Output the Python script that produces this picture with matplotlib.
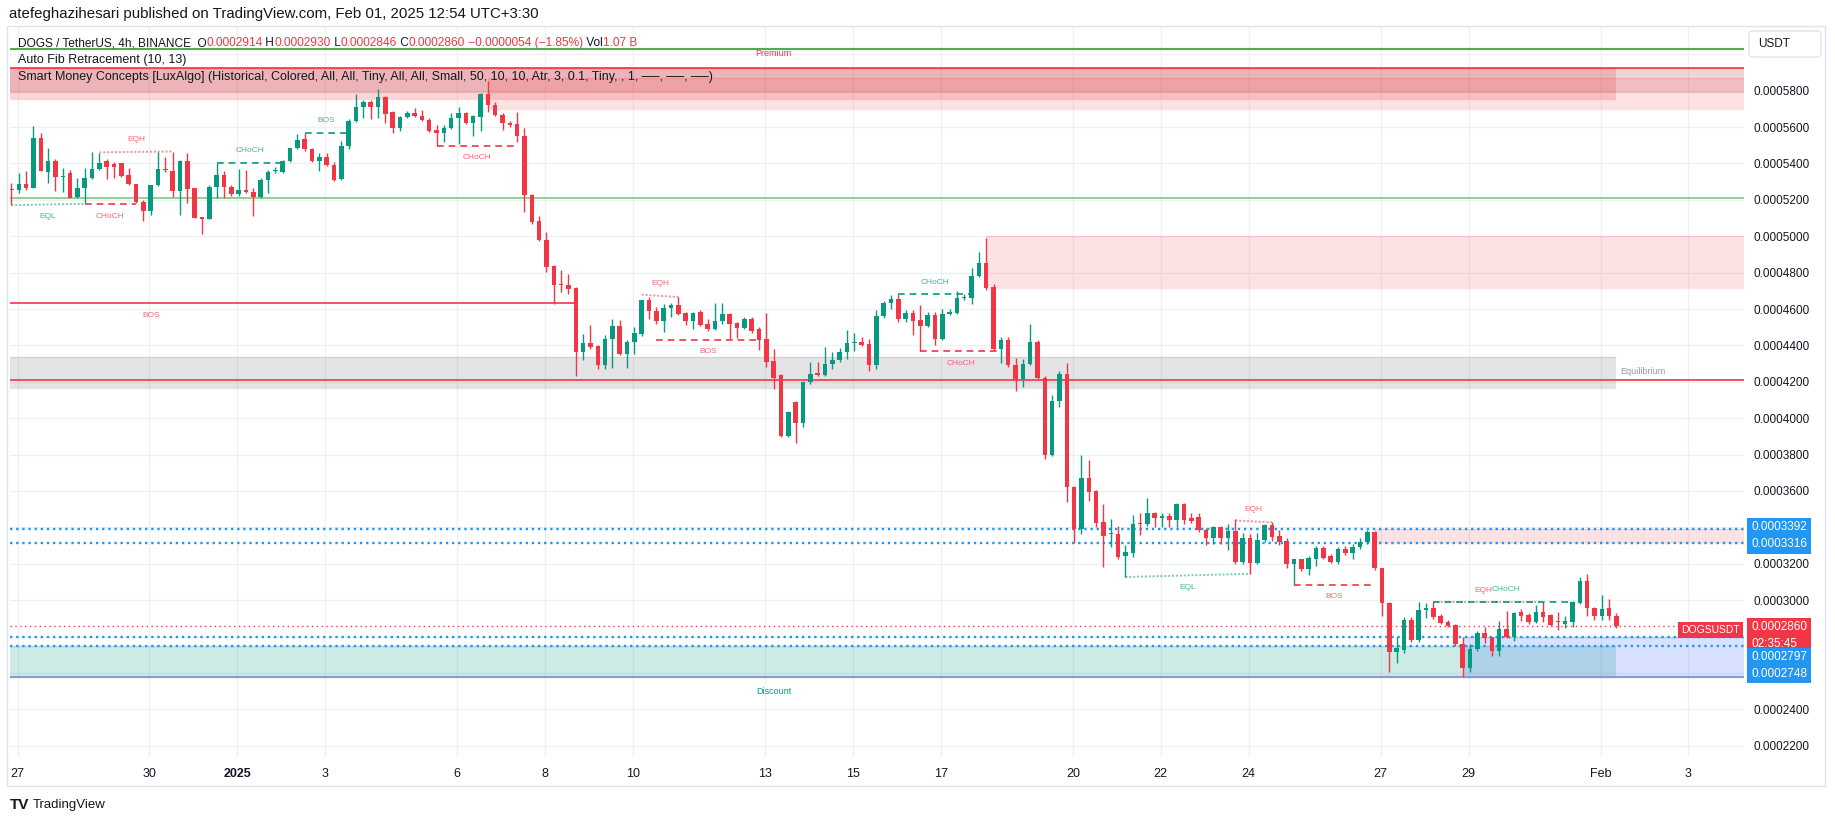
import numpy as np
import matplotlib
matplotlib.use("Agg")
import matplotlib.pyplot as plt
import matplotlib.transforms as mtransforms
from matplotlib.patches import Rectangle, FancyBboxPatch

plt.rcParams['font.family'] = ['Liberation Sans', 'DejaVu Sans']

W, H = 1835, 821
SCALE = 1e-7  # prices below are in 1e-7 USDT, 2860 -> 0.0002860

# DOGS/USDT 4h candles, Dec 26 -> Feb 1
opens = [5260, 5254, 5287, 5263, 5542, 5355, 5415, 5327, 5350, 5213,
         5263, 5318, 5369, 5415, 5395, 5401, 5336, 5289, 5190, 5138,
         5281, 5369, 5360, 5248, 5415, 5263, 5107, 5094, 5272, 5336,
         5272, 5230, 5256, 5245, 5217, 5309, 5358, 5355, 5415, 5487,
         5535, 5479, 5415, 5437, 5391, 5313, 5496, 5634, 5709, 5736,
         5709, 5764, 5681, 5593, 5654, 5679, 5661, 5639, 5584, 5566,
         5597, 5648, 5679, 5621, 5657, 5780, 5722, 5667, 5624, 5617,
         5553, 5226, 5083, 4982, 4837, 4740, 4731, 4716, 4364, 4413,
         4397, 4290, 4433, 4507, 4351, 4419, 4465, 4652, 4589, 4533,
         4606, 4624, 4580, 4536, 4584, 4520, 4492, 4536, 4575, 4525,
         4498, 4547, 4492, 4437, 4315, 4236, 3902, 4089, 3975, 4199,
         4249, 4236, 4300, 4318, 4364, 4415, 4420, 4410, 4294, 4562,
         4635, 4657, 4547, 4580, 4538, 4507, 4566, 4437, 4571, 4580,
         4661, 4661, 4782, 4853, 4722, 4382, 4432, 4291, 4217, 4296,
         4419, 4223, 3798, 4095, 4245, 3622, 3392, 3673, 3600, 3429,
         3364, 3365, 3242, 3260, 3420, 3418, 3480, 3449, 3462, 3442,
         3530, 3451, 3457, 3385, 3339, 3402, 3339, 3380, 3211, 3339,
         3205, 3330, 3413, 3352, 3325, 3200, 3224, 3169, 3227, 3284,
         3242, 3211, 3279, 3257, 3290, 3319, 3374, 3175, 2986, 2717,
         2726, 2891, 2781, 2946, 2959, 2913, 2882, 2863, 2759, 2629,
         2730, 2817, 2795, 2720, 2839, 2799, 2933, 2918, 2882, 2933,
         2918, 2884, 2869, 2882, 2986, 3105, 2955, 2915, 2955, 2914]
highs = [5294, 5349, 5360, 5608, 5569, 5487, 5424, 5373, 5365, 5318,
         5373, 5461, 5456, 5424, 5410, 5404, 5377, 5289, 5199, 5281,
         5461, 5437, 5465, 5420, 5456, 5263, 5107, 5280, 5401, 5358,
         5280, 5368, 5364, 5263, 5318, 5364, 5380, 5420, 5487, 5560,
         5566, 5483, 5456, 5456, 5410, 5523, 5645, 5780, 5749, 5749,
         5808, 5773, 5690, 5660, 5690, 5703, 5694, 5648, 5612, 5612,
         5679, 5712, 5685, 5667, 5789, 5855, 5740, 5676, 5634, 5685,
         5593, 5230, 5112, 5024, 4840, 4813, 4795, 4722, 4461, 4510,
         4400, 4456, 4547, 4538, 4430, 4501, 4652, 4666, 4611, 4630,
         4635, 4666, 4585, 4585, 4593, 4544, 4635, 4635, 4580, 4530,
         4556, 4556, 4502, 4578, 4382, 4241, 4040, 4095, 4205, 4309,
         4309, 4391, 4364, 4388, 4487, 4470, 4446, 4437, 4593, 4642,
         4675, 4681, 4593, 4593, 4621, 4584, 4584, 4602, 4602, 4698,
         4685, 4828, 4914, 4991, 4740, 4446, 4446, 4331, 4327, 4516,
         4432, 4230, 4130, 4258, 4305, 3630, 3798, 3770, 3605, 3526,
         3444, 3407, 3303, 3468, 3480, 3563, 3485, 3480, 3480, 3536,
         3536, 3479, 3480, 3398, 3407, 3407, 3420, 3444, 3370, 3361,
         3370, 3420, 3431, 3383, 3339, 3227, 3227, 3242, 3297, 3297,
         3251, 3292, 3297, 3306, 3343, 3385, 3380, 3178, 2990, 2799,
         2909, 2906, 2988, 2986, 2988, 2922, 2891, 2869, 2799, 2759,
         2832, 2850, 2800, 2885, 2940, 2933, 2950, 2928, 2973, 2992,
         2925, 2933, 2915, 2995, 3129, 3144, 2964, 3028, 3005, 2930]
lows = [5171, 5235, 5254, 5263, 5358, 5291, 5248, 5245, 5208, 5210,
        5181, 5314, 5365, 5314, 5318, 5325, 5280, 5181, 5083, 5116,
        5275, 5355, 5217, 5116, 5181, 5100, 5015, 5094, 5212, 5208,
        5223, 5223, 5240, 5111, 5208, 5235, 5350, 5350, 5410, 5480,
        5470, 5410, 5358, 5385, 5305, 5310, 5480, 5630, 5648, 5645,
        5652, 5621, 5569, 5580, 5650, 5655, 5635, 5575, 5498, 5520,
        5590, 5507, 5615, 5553, 5580, 5685, 5660, 5584, 5602, 5516,
        5135, 5065, 4975, 4804, 4626, 4694, 4685, 4232, 4322, 4380,
        4272, 4272, 4278, 4346, 4278, 4355, 4450, 4547, 4520, 4474,
        4556, 4566, 4514, 4489, 4505, 4478, 4485, 4520, 4434, 4441,
        4490, 4470, 4373, 4281, 4162, 3895, 3896, 3865, 3951, 4190,
        4230, 4230, 4272, 4310, 4327, 4367, 4395, 4258, 4272, 4550,
        4602, 4529, 4530, 4456, 4368, 4500, 4404, 4430, 4565, 4575,
        4650, 4630, 4775, 4703, 4368, 4303, 4280, 4147, 4171, 4290,
        4215, 3777, 3790, 4063, 3541, 3315, 3361, 3545, 3402, 3183,
        3293, 3224, 3127, 3237, 3358, 3410, 3402, 3400, 3402, 3402,
        3416, 3422, 3375, 3301, 3306, 3306, 3273, 3200, 3200, 3145,
        3198, 3318, 3325, 3301, 3174, 3086, 3160, 3136, 3187, 3224,
        3205, 3200, 3248, 3227, 3279, 3306, 3165, 2913, 2607, 2652,
        2710, 2770, 2770, 2900, 2895, 2868, 2850, 2750, 2579, 2607,
        2720, 2766, 2693, 2693, 2790, 2777, 2887, 2869, 2875, 2882,
        2858, 2836, 2845, 2851, 2979, 2913, 2891, 2891, 2891, 2846]
closes = [5252, 5287, 5263, 5542, 5358, 5415, 5327, 5333, 5212, 5267,
          5322, 5369, 5404, 5382, 5379, 5331, 5285, 5186, 5138, 5281,
          5369, 5362, 5248, 5415, 5260, 5103, 5094, 5272, 5336, 5272,
          5230, 5254, 5245, 5217, 5311, 5355, 5362, 5415, 5487, 5529,
          5478, 5415, 5437, 5391, 5309, 5496, 5635, 5709, 5736, 5709,
          5764, 5672, 5593, 5657, 5676, 5661, 5639, 5579, 5566, 5597,
          5648, 5679, 5621, 5661, 5780, 5722, 5667, 5621, 5612, 5553,
          5226, 5080, 4979, 4832, 4734, 4731, 4712, 4364, 4413, 4391,
          4290, 4437, 4507, 4351, 4419, 4470, 4652, 4588, 4533, 4606,
          4624, 4575, 4536, 4580, 4514, 4492, 4536, 4575, 4520, 4498,
          4547, 4479, 4432, 4309, 4223, 3902, 4034, 3975, 4199, 4245,
          4236, 4300, 4318, 4364, 4415, 4420, 4404, 4294, 4562, 4635,
          4657, 4547, 4580, 4534, 4507, 4566, 4437, 4571, 4584, 4661,
          4666, 4782, 4853, 4716, 4382, 4432, 4291, 4217, 4296, 4419,
          4223, 3798, 4095, 4245, 3620, 3392, 3673, 3596, 3426, 3352,
          3370, 3238, 3264, 3420, 3418, 3480, 3449, 3462, 3442, 3526,
          3442, 3433, 3383, 3339, 3402, 3339, 3379, 3211, 3339, 3205,
          3330, 3413, 3348, 3321, 3200, 3224, 3169, 3229, 3284, 3233,
          3211, 3279, 3257, 3292, 3319, 3374, 3175, 2983, 2717, 2739,
          2891, 2781, 2946, 2959, 2905, 2876, 2858, 2759, 2629, 2730,
          2817, 2790, 2720, 2839, 2799, 2928, 2913, 2882, 2933, 2906,
          2863, 2880, 2885, 2992, 3105, 2955, 2915, 2951, 2914, 2860]

# date axis: days after Dec 27 and their labels
tick_days = [0, 3, 5, 7, 10, 12, 14, 17, 19, 21, 24, 26, 28, 31, 33, 36, 38]
tick_labels = ['27', '30', '2025', '3', '6', '8', '10', '13', '15', '17',
               '20', '22', '24', '27', '29', 'Feb', '3']
price_ticks = list(range(2200, 6001, 200))
hidden_ticks = [6000, 3400, 2800, 2600]  # sit under the currency / price boxes

# auto fib / smc levels
green_levels = [6028, 5210]
red_levels = [5923, 4210]
blue_levels = [3392, 3316, 2797, 2748]
range_bottom = 2579
volume_text = '1.07 B'
countdown = '02:35:45'

# zones: start bar (None = off chart left), end bar (None = right edge), top, bottom
zone_start = [None, None, 65, 133, 186, None, None, 198]
zone_end = [219, None, None, None, None, 219, 219, None]
zone_top = [5923, 5923, 5868, 5000, 3392, 4335, 2748, 2797]
zone_bot = [5756, 5791, 5699, 4716, 3316, 4168, 2579, 2579]
zone_col = ['#F23645', '#B42D32', '#F23645', '#F23645', '#F23645', '#787B86', '#089981', '#2962FF']
zone_alpha = [0.2, 0.2, 0.14, 0.14, 0.14, 0.2, 0.2, 0.18]

# market structure: from bar, to bar, level at start, level at end, bullish?, label
smc_x0 = [0, 10, 12, 28, 40, 58, -39, 86, 88, 121, 124, 167, 152, 175, 194, 194]
smc_x1 = [10, 17, 22, 37, 46, 69, 77, 91, 102, 131, 135, 172, 169, 186, 209, 213]
smc_y0 = [5171, 5177, 5461, 5404, 5569, 5496, 4632, 4679, 4431, 4681, 4367, 3438, 3127, 3086, 2988, 2992]
smc_y1 = [5178, 5177, 5466, 5404, 5569, 5496, 4632, 4666, 4431, 4681, 4367, 3428, 3145, 3086, 2988, 2992]
smc_bull = [1, 0, 0, 1, 1, 0, 0, 0, 0, 1, 0, 0, 1, 0, 0, 1]
smc_text = ['EQL', 'CHoCH', 'EQH', 'CHoCH', 'BOS', 'CHoCH', 'BOS', 'EQH', 'BOS',
            'CHoCH', 'CHoCH', 'EQH', 'EQL', 'BOS', 'EQH', 'CHoCH']

GREEN, RED, BLUE = '#089981', '#F23645', '#2196F3'
TXT = '#131722'

o = np.array(opens); h = np.array(highs); l = np.array(lows); c = np.array(closes)
x = np.arange(len(o))
cols = np.where(c >= o, GREEN, RED)

fig = plt.figure(figsize=(W / 100, H / 100), dpi=100)
fig.patch.set_facecolor('white')
ax = fig.add_axes([9.5 / W, 1 - 757 / H, (1744 - 9.5) / W, (757 - 27) / H])
XL, XR = -0.27, 236.4
ax.set_xlim(XL, XR)
ax.set_ylim(2138, 6150)
for s in ax.spines.values():
    s.set_visible(False)

# grid
tick_x = [(d + 0.137) * 6 for d in tick_days]
for tx in tick_x:
    ax.axvline(tx, color='#EFF0F2', lw=1, zorder=0)
for py in price_ticks:
    ax.axhline(py, color='#EFF0F2', lw=1, zorder=0)

# zones
for s0, e0, top, bot, col, al in zip(zone_start, zone_end, zone_top, zone_bot, zone_col, zone_alpha):
    xs = XL - 1 if s0 is None else s0
    xe = XR + 1 if e0 is None else e0
    ax.add_patch(Rectangle((xs, bot), xe - xs, top - bot, fc=col, alpha=al, ec='none', zorder=1))
    ax.hlines([top, bot], xs, xe, color=col, alpha=al * 0.9, lw=1, zorder=1)

# fib / range lines
ax.hlines(green_levels, XL, XR, color=['#4CAF50', '#81C784'], lw=[1.5, 1.2], zorder=2)
ax.hlines(red_levels, XL, XR, color=RED, lw=1.2, zorder=2)
ax.hlines(range_bottom, XL, XR, color='#8D98D3', lw=1.5, zorder=2)
ax.hlines(blue_levels, XL, XR, color=BLUE, lw=1.7, linestyles=[(0, (1, 1.6))], zorder=2)
ax.hlines(c[-1], XL, XR, color=RED, lw=1, linestyles=[(0, (1, 2.5))], zorder=2)

# candles
ax.vlines(x, l, h, color=cols, lw=1, zorder=3)
body = np.maximum(np.abs(c - o), 5)
ax.bar(x, body, bottom=np.minimum(o, c), width=0.62, color=cols, zorder=4, linewidth=0)

# structure lines and labels
for i, (x0, x1, y0, y1, bull, t) in enumerate(zip(smc_x0, smc_x1, smc_y0, smc_y1, smc_bull, smc_text)):
    col = GREEN if bull else RED
    if t in ('EQH', 'EQL'):
        ls, lw, al = (0, (1, 1)), 1.4, 0.55
    elif t == 'BOS' and x0 < 0:
        ls, lw, al = '-', 1.2, 1
    else:
        ls, lw, al = (0, (4, 3)), 1.2, 1
    ax.plot([x0, x1], [y0, y1], color=col, lw=lw, ls=ls, alpha=al, zorder=5)
    above = (t == 'EQH') or (bull and t != 'EQL')
    # the last EQH / CHoCH pair shares one level: nudge them apart a little
    dx = -5 if i == len(smc_text) - 2 else (3 if i == len(smc_text) - 1 else 0)
    ax.annotate(t, xy=((x0 + x1) / 2, (y0 + y1) / 2), xytext=(dx, 12 if above else -12),
                textcoords='offset pixels', ha='center', va='center', fontsize=6,
                color=col, alpha=0.75, zorder=6)

mid_bar = 104
ax.text(mid_bar, 6007, 'Premium', color=RED, fontsize=6.5, ha='center', va='center', zorder=6)
ax.text(mid_bar, 2497, 'Discount', color=GREEN, fontsize=6.5, ha='center', va='center', zorder=6)
ax.text(219.5, 4254, 'Equilibrium', color='#9598A1', fontsize=6.5, ha='left', va='center', zorder=6)

# axes ticks
ax.yaxis.tick_right()
ax.set_yticks(price_ticks)
ax.set_yticklabels(['' if p in hidden_ticks else f'{p * SCALE:.7f}' for p in price_ticks])
ax.tick_params(axis='y', length=0, pad=6.5, labelsize=8.5, labelcolor=TXT)
ax.set_xticks(tick_x)
ax.set_xticklabels(tick_labels)
ax.tick_params(axis='x', length=0, pad=8, labelsize=9, labelcolor=TXT)
for lab in ax.get_xticklabels():
    if lab.get_text() == '2025':
        lab.set_fontweight('bold')


def axis_box(text, y, dy, color, ha='left', dx=7, size=8.5):
    ax.annotate(text, xy=(1, y), xycoords=('axes fraction', 'data'), xytext=(dx, dy),
                textcoords='offset pixels', ha=ha, va='center', color='white',
                fontsize=size, linespacing=1.5, annotation_clip=False, zorder=30,
                bbox=dict(boxstyle='square,pad=0.3', fc=color, ec='none'))


axis_box(f'{blue_levels[0] * SCALE:.7f}\n{blue_levels[1] * SCALE:.7f}',
         (blue_levels[0] + blue_levels[1]) / 2, 0, BLUE)
axis_box(f'{c[-1] * SCALE:.7f}\n{countdown}', c[-1], -10, RED)
axis_box(f'{blue_levels[2] * SCALE:.7f}\n{blue_levels[3] * SCALE:.7f}',
         (blue_levels[2] + blue_levels[3]) / 2, -24, BLUE)
axis_box('DOGSUSDT', c[-1], -4, RED, ha='right', dx=-4, size=7.5)

# frame, currency box, logo
idt = mtransforms.IdentityTransform()
fig.add_artist(Rectangle((7, H - 786), 1825 - 7, 786 - 26, transform=idt, fill=False,
                         ec='#E0E3EB', lw=1))
fig.add_artist(FancyBboxPatch((1749, H - 57), 72, 26, boxstyle='round,pad=0,rounding_size=4',
                              transform=idt, fc='white', ec='#E0E3EB', lw=1))
fig.text(1758 / W, 1 - 44 / H, 'USDT', fontsize=8.5, color=TXT, va='center')

fig.text(9 / W, 1 - 14 / H,
         'atefeghazihesari published on TradingView.com, Feb 01, 2025 12:54 UTC+3:30',
         fontsize=10.85, color=TXT, va='center')

renderer = fig.canvas.get_renderer()


def chain(pieces, px, py, size):
    for txt, col in pieces:
        t = fig.text(px / W, 1 - py / H, txt, color=col, fontsize=size, va='center', ha='left')
        px += t.get_window_extent(renderer).width


chg = c[-1] - o[-1]
pct = chg / o[-1] * 100
chain([('DOGS / TetherUS, 4h, BINANCE  O', TXT), (f'{o[-1] * SCALE:.7f}', RED),
       (' H', TXT), (f'{h[-1] * SCALE:.7f}', RED),
       (' L', TXT), (f'{l[-1] * SCALE:.7f}', RED),
       (' C', TXT), (f'{c[-1] * SCALE:.7f}', RED),
       (f' \u2212{abs(chg) * SCALE:.7f} (\u2212{abs(pct):.2f}%)', RED),
       (' Vol', TXT), (volume_text, RED)], 17.5, 43, 8.6)
fig.text(17.5 / W, 1 - 60 / H, 'Auto Fib Retracement (10, 13)', fontsize=9, color=TXT, va='center')
fig.text(17.5 / W, 1 - 77 / H,
         'Smart Money Concepts [LuxAlgo] (Historical, Colored, All, All, Tiny, All, All, Small, '
         '50, 10, 10, Atr, 3, 0.1, Tiny, , 1, \u2500\u2500, \u2500\u2500, \u2500\u2500)',
         fontsize=9, color=TXT, va='center')

fig.text(10 / W, 1 - 805 / H, 'TV', fontsize=11, fontweight='bold', color=TXT, va='center')
fig.text(33 / W, 1 - 805 / H, 'TradingView', fontsize=9.5, color=TXT, va='center')

fig.savefig('out.png', dpi=100)
